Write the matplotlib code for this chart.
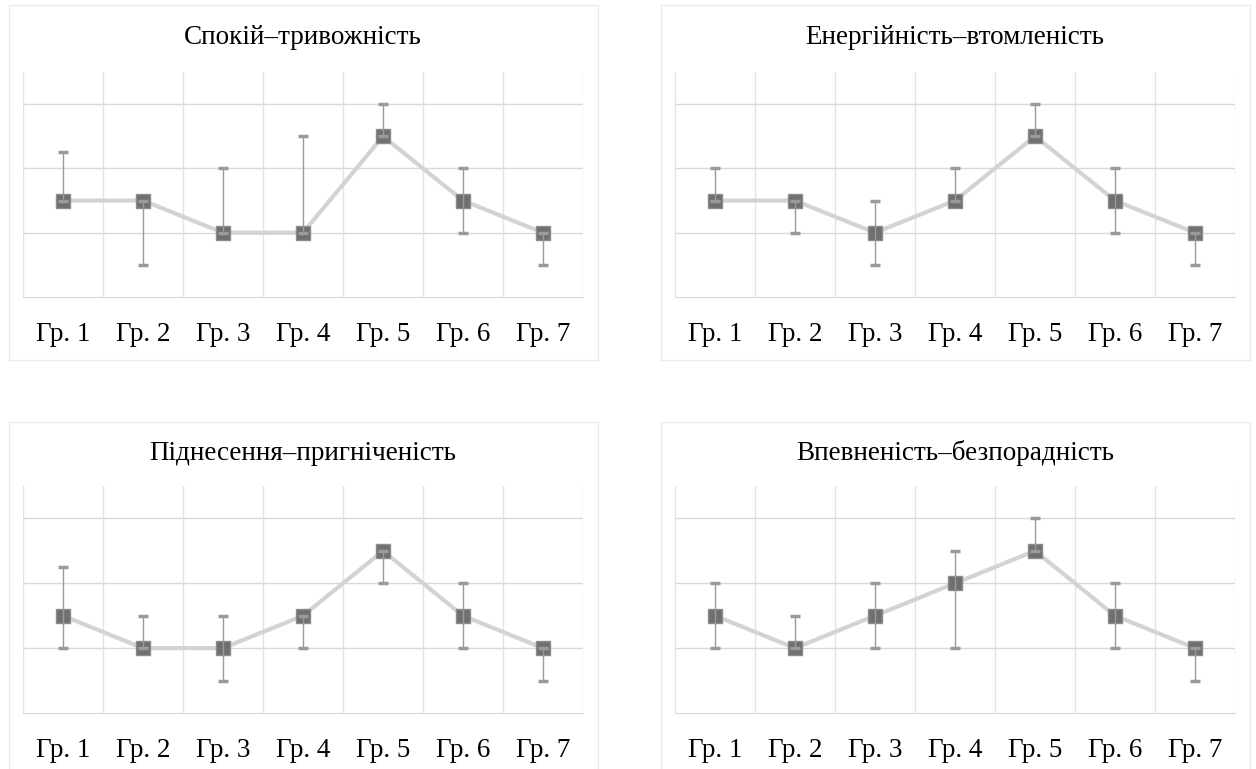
import numpy as np
import matplotlib.pyplot as plt
from matplotlib.patches import Rectangle

groups = ["Гр. 1", "Гр. 2", "Гр. 3", "Гр. 4", "Гр. 5", "Гр. 6", "Гр. 7"]

titles = ["Спокій–тривожність", "Енергійність–втомленість",
          "Піднесення–пригніченість", "Впевненість–безпорадність"]

# mean, upper and lower ends of the error bars for each scale
mean_1 = [1.5, 1.5, 1.0, 1.0, 2.5, 1.5, 1.0]
upper_1 = [2.25, 1.5, 2.0, 2.5, 3.0, 2.0, 1.0]
lower_1 = [1.5, 0.5, 1.0, 1.0, 2.5, 1.0, 0.5]

mean_2 = [1.5, 1.5, 1.0, 1.5, 2.5, 1.5, 1.0]
upper_2 = [2.0, 1.5, 1.5, 2.0, 3.0, 2.0, 1.0]
lower_2 = [1.5, 1.0, 0.5, 1.5, 2.5, 1.0, 0.5]

mean_3 = [1.5, 1.0, 1.0, 1.5, 2.5, 1.5, 1.0]
upper_3 = [2.25, 1.5, 1.5, 1.5, 2.5, 2.0, 1.0]
lower_3 = [1.0, 1.0, 0.5, 1.0, 2.0, 1.0, 0.5]

mean_4 = [1.5, 1.0, 1.5, 2.0, 2.5, 1.5, 1.0]
upper_4 = [2.0, 1.5, 2.0, 2.5, 3.0, 2.0, 1.0]
lower_4 = [1.0, 1.0, 1.0, 1.0, 2.5, 1.0, 0.5]

panels = [(mean_1, upper_1, lower_1), (mean_2, upper_2, lower_2),
          (mean_3, upper_3, lower_3), (mean_4, upper_4, lower_4)]

plt.rcParams['font.family'] = ['Liberation Serif', 'DejaVu Serif']

W, H = 1256, 769
fig = plt.figure(figsize=(W / 100, H / 100), dpi=100)

# pixel boxes: (left, right, top, bottom) of plot area, frame box, title y
plot_boxes = [(23, 583, 72, 297), (675, 1235, 72, 297),
              (23, 583, 486, 713), (675, 1235, 486, 713)]
frames = [(9, 598, 5, 360), (661, 1250, 5, 360),
          (9, 598, 422, 780), (661, 1250, 422, 780)]
title_y = [37, 37, 453, 453]

for i, (m, up, lo) in enumerate(panels):
    fl, fr, ft, fb = frames[i]
    fig.patches.append(Rectangle((fl / W, 1 - fb / H), (fr - fl) / W, (fb - ft) / H,
                                 transform=fig.transFigure, fill=False,
                                 edgecolor="#ebebeb", linewidth=1))
    l, r, t, b = plot_boxes[i]
    ax = fig.add_axes([l / W, 1 - b / H, (r - l) / W, (b - t) / H])
    x = np.arange(len(groups))
    m = np.array(m)
    yerr = [m - np.array(lo), np.array(up) - m]

    ax.plot(x, m, color="#d3d3d3", linewidth=3, zorder=3)
    ax.plot(x, m, linestyle="none", marker="s", markersize=10.5,
            markerfacecolor="#6f6f6f", markeredgecolor="#8c8c8c",
            markeredgewidth=1, zorder=4)
    eb = ax.errorbar(x, m, yerr=yerr, fmt="none", ecolor="#9a9a9a",
                     elinewidth=1, capsize=3.5, capthick=2.5, zorder=5)
    for cap in eb[1]:
        cap.set_color("#666666")

    ax.set_xlim(-0.5, len(groups) - 0.5)
    ax.set_ylim(0, 3.5)
    ax.set_yticks([1, 2, 3])
    ax.set_xticks(x)
    ax.set_xticklabels(groups, fontsize=19.5)
    ax.set_xticks(np.arange(-0.5, len(groups)), minor=True)
    ax.grid(True, axis="y", which="major", color="#d9d9d9", linewidth=1)
    ax.grid(True, axis="x", which="minor", color="#e3e3e3", linewidth=1)
    ax.set_axisbelow(True)
    ax.tick_params(axis="both", which="both", length=0)
    ax.tick_params(axis="x", pad=18)
    ax.set_yticklabels([])
    for s in ["top", "right", "left"]:
        ax.spines[s].set_visible(False)
    ax.spines["bottom"].set_color("#d9d9d9")

    fig.text((l + r) / 2 / W, 1 - title_y[i] / H, titles[i], fontsize=19.5,
             ha="center", va="center")

fig.savefig("out.png", dpi=100)
